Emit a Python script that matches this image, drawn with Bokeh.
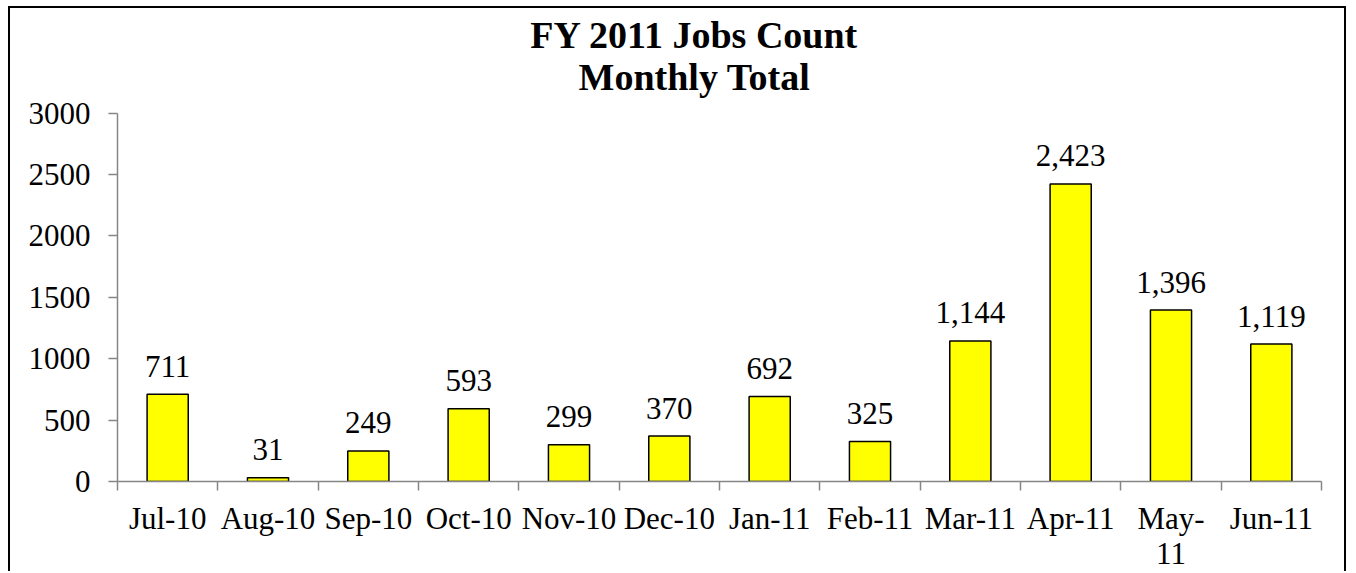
from bokeh.plotting import figure
from bokeh.models import FixedTicker, Range1d, Label, ColumnDataSource
from bokeh.core.properties import value
from bokeh.embed import file_html
from bokeh.resources import INLINE

months = ["Jul-10", "Aug-10", "Sep-10", "Oct-10", "Nov-10", "Dec-10",
          "Jan-11", "Feb-11", "Mar-11", "Apr-11", "May-\n11", "Jun-11"]
jobs = [711, 31, 249, 593, 299, 370, 692, 325, 1144, 2423, 1396, 1119]
y_ticks = [0, 500, 1000, 1500, 2000, 2500, 3000]
title_lines = ["FY 2011 Jobs Count", "Monthly Total"]

FONT = "Liberation Serif"
AXIS_GRAY = "#868686"

xs = [i + 0.5 for i in range(len(months))]
labels = ["{:,}".format(v) for v in jobs]
src = ColumnDataSource(dict(x=xs, y=jobs, label=labels))

# the frame reaches the top of the chart so the centred title lines sit inside it;
# the y axis itself is bounded to 0..3000
p = figure(width=1338, height=565, output_backend="svg", toolbar_location=None,
           x_range=Range1d(0, len(months)), y_range=Range1d(0, 3851),
           min_border_left=107, min_border_right=27, min_border_top=0,
           min_border_bottom=88, title=None)

for txt, dy in zip(title_lines, [447, 405]):
    p.add_layout(Label(x=577, y=dy, x_units="screen", y_units="screen",
                       text=txt, text_align="center", text_baseline="alphabetic",
                       text_font=FONT, text_font_size="38px",
                       text_font_style="bold", text_color="black"))

p.vbar(x="x", top="y", width=0.41, bottom=0, source=src,
       fill_color="#FFFF00", line_color="black", line_width=1.5)
p.text(x="x", y="y", text="label", source=src, text_align="center",
       text_baseline="alphabetic", y_offset=-28,
       text_font=value(FONT), text_font_size="31px", text_color="black")

p.xgrid.visible = False
p.ygrid.visible = False
p.outline_line_color = None
p.background_fill_color = "white"
p.border_fill_color = "white"

xa = p.xaxis[0]
xa.ticker = FixedTicker(ticks=xs, minor_ticks=list(range(len(months) + 1)))
xa.major_label_overrides = {x: m for x, m in zip(xs, months)}
xa.major_tick_line_color = None
xa.major_tick_out = 0
xa.major_tick_in = 0
xa.minor_tick_line_color = AXIS_GRAY
xa.minor_tick_line_width = 1.5
xa.minor_tick_out = 9
xa.minor_tick_in = 0
xa.axis_line_color = AXIS_GRAY
xa.axis_line_width = 1.5
xa.major_label_text_font = FONT
xa.major_label_text_font_size = "31px"
xa.major_label_text_color = "black"
xa.major_label_text_line_height = 1.0
xa.major_label_standoff = 10

ya = p.yaxis[0]
ya.ticker = FixedTicker(ticks=y_ticks)
ya.bounds = (0, 3000)
ya.minor_tick_line_color = None
ya.major_tick_line_color = AXIS_GRAY
ya.major_tick_line_width = 1.5
ya.major_tick_out = 9
ya.major_tick_in = 0
ya.axis_line_color = AXIS_GRAY
ya.axis_line_width = 1.5
ya.major_label_text_font = FONT
ya.major_label_text_font_size = "31px"
ya.major_label_text_color = "black"
ya.major_label_standoff = 18

p.styles = {"border-top": "2px solid black", "border-left": "2px solid black",
            "border-right": "2px solid black",
            "margin-left": "8px", "margin-top": "6px"}

open("out.html", "w").write(file_html(p, INLINE))
